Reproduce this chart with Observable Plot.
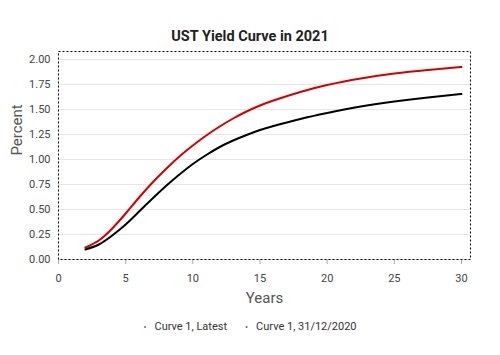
<!DOCTYPE html>
<html>
<head>
<meta charset="utf-8">
<script src="https://cdn.jsdelivr.net/npm/d3@7"></script>
<script src="https://cdn.jsdelivr.net/npm/@observablehq/plot@0.6"></script>
<style>
  body { margin: 0; background: #fff; width: 500px; height: 355px; overflow: hidden; font-family: Roboto, "Liberation Sans", sans-serif; }
  #title { height: 18px; line-height: 18px; padding-top: 28px; text-align: center; font-weight: bold; font-size: 14.5px; color: #222; box-sizing: content-box; }
  #legend { position: absolute; top: 320px; left: 0; width: 500px; text-align: center; font-size: 11px; color: #333; }
  #legend span.item { margin: 0 9px; }
  #legend span.dot { color: #666; font-size: 9px; margin-right: 8px; }
  #chart { position: absolute; top: 46px; left: 0; }
</style>
</head>
<body>
<div id="title">UST Yield Curve in 2021</div>
<div id="chart"></div>
<div id="legend"></div>
<script>
const years = [2, 3, 4, 5, 6, 7, 8, 9, 10, 11, 12, 13, 14, 15, 16, 18, 20, 22.5, 25, 27.5, 30];
const latest = [0.12, 0.19, 0.31, 0.46, 0.62, 0.77, 0.905, 1.03, 1.14, 1.24, 1.33, 1.41, 1.48, 1.54, 1.59, 1.675, 1.745, 1.81, 1.86, 1.895, 1.925];
const prev = [0.10, 0.15, 0.24, 0.35, 0.48, 0.61, 0.735, 0.85, 0.955, 1.045, 1.125, 1.19, 1.245, 1.295, 1.335, 1.405, 1.465, 1.53, 1.58, 1.62, 1.655];
const seriesNames = ["Curve 1, Latest", "Curve 1, 31/12/2020"];
const seriesColors = ["#d40000", "#000000"];
const xTicks = [0, 5, 10, 15, 20, 25, 30];
const yTicks = [0, 0.25, 0.5, 0.75, 1, 1.25, 1.5, 1.75, 2];

const data = [];
years.forEach((y, i) => data.push({x: y, v: latest[i], s: seriesNames[0]}));
years.forEach((y, i) => data.push({x: y, v: prev[i], s: seriesNames[1]}));

const plot = Plot.plot({
  width: 500,
  height: 264,
  marginLeft: 58,
  marginRight: 30,
  marginTop: 5,
  marginBottom: 51,
  style: { fontFamily: "Roboto, 'Liberation Sans', sans-serif", fontSize: "11px", color: "#444", background: "transparent" },
  x: { domain: [0, 30.67], label: null },
  y: { domain: [0, 2.08], label: null },
  color: { domain: seriesNames, range: seriesColors },
  marks: [
    Plot.gridY(yTicks, { stroke: "#e6e6e6", strokeOpacity: 1, strokeWidth: 1 }),
    Plot.axisX({ ticks: xTicks, tickSize: 5, tickPadding: 10, stroke: "#aaa", fill: "#444", label: null }),
    Plot.axisY({ ticks: yTicks, tickSize: 0, tickPadding: 8, tickFormat: d => d.toFixed(2), fill: "#444", label: null }),
    Plot.line(data, { x: "x", y: "v", z: "s", stroke: "s", strokeWidth: 2, curve: "natural" }),
    Plot.frame({ stroke: "#000", strokeDasharray: "2,2", strokeWidth: 1 }),
    Plot.text(["Years"], { frameAnchor: "bottom", dy: 43, fontSize: 15, fill: "#555" }),
    Plot.text(["Percent"], { frameAnchor: "left", dx: -41, rotate: -90, fontSize: 15, fill: "#555" })
  ]
});
document.getElementById("chart").appendChild(plot);

const leg = document.getElementById("legend");
seriesNames.forEach(n => {
  const it = document.createElement("span");
  it.className = "item";
  it.innerHTML = '<span class="dot">•</span>' + n;
  leg.appendChild(it);
});
</script>
</body>
</html>
